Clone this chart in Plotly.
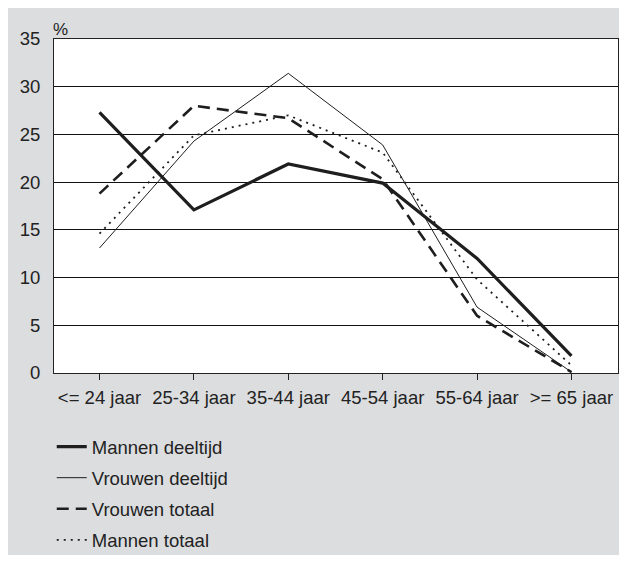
import plotly.graph_objects as go

# age groups on the x axis
categories = ["<= 24 jaar", "25-34 jaar", "35-44 jaar", "45-54 jaar", "55-64 jaar", ">= 65 jaar"]

# percentages
mannen_deeltijd = [27.3, 17.1, 21.9, 19.9, 12.0, 1.8]
vrouwen_deeltijd = [13.1, 24.3, 31.4, 23.9, 6.9, 0.1]
vrouwen_totaal = [18.8, 28.0, 26.7, 20.3, 6.0, 0.1]
mannen_totaal = [14.6, 24.9, 27.0, 23.1, 9.8, 0.8]

# the page body adds 8px around the figure, so size it to fit the window
W, H = 611, 547
ML, MR, MT, MB = 46, 1, 31, 182
BG = "#dcdddf"
INK = "#1e1e1e"
FONT = "Liberation Sans, Arial, sans-serif"
FS = 18.5

fig = go.Figure()

fig.add_trace(go.Scatter(x=categories, y=mannen_deeltijd, name="Mannen deeltijd", mode="lines",
                         line=dict(color=INK, width=3.2), legendgroup="a"))
fig.add_trace(go.Scatter(x=categories, y=vrouwen_deeltijd, name="Vrouwen deeltijd", mode="lines",
                         line=dict(color=INK, width=1), legendgroup="b"))
fig.add_trace(go.Scatter(x=categories, y=vrouwen_totaal, name="Vrouwen totaal", mode="lines",
                         line=dict(color=INK, width=2.6, dash="12px,7px"), legendgroup="c"))
fig.add_trace(go.Scatter(x=categories, y=mannen_totaal, name="Mannen totaal", mode="lines",
                         line=dict(color=INK, width=1.8, dash="2px,5px"), legendgroup="d"))

# the "%" unit label above the y axis
fig.add_annotation(text="%", xref="paper", yref="paper", x=0, y=1.0,
                   xanchor="left", yanchor="bottom", showarrow=False,
                   font=dict(size=17, color="#222"), xshift=-3, yshift=-2)

fig.update_layout(
    width=W, height=H,
    margin=dict(l=ML, r=MR, t=MT, b=MB, autoexpand=False),
    paper_bgcolor=BG,
    plot_bgcolor="white",
    font=dict(family=FONT, size=FS, color="#222"),
    showlegend=True,
    legend=dict(x=-0.004, y=-0.165, xanchor="left", yanchor="top",
                bgcolor="rgba(0,0,0,0)", tracegroupgap=4, traceorder="grouped",
                font=dict(size=FS, color="#222")),
    xaxis=dict(range=[-0.482, 5.493], showgrid=False, showline=True, linecolor="#222",
               linewidth=1, mirror=True, ticks="outside", ticklen=6, tickcolor="#222",
               tickfont=dict(size=FS), ticklabelstandoff=2),
    yaxis=dict(range=[0, 35], dtick=5, showgrid=True, gridcolor="#111", gridwidth=1,
               zeroline=False, showline=True, linecolor="#222", linewidth=1, mirror=True,
               ticks="", tickfont=dict(size=FS), ticklabelstandoff=9),
)

fig.write_html("out.html")
